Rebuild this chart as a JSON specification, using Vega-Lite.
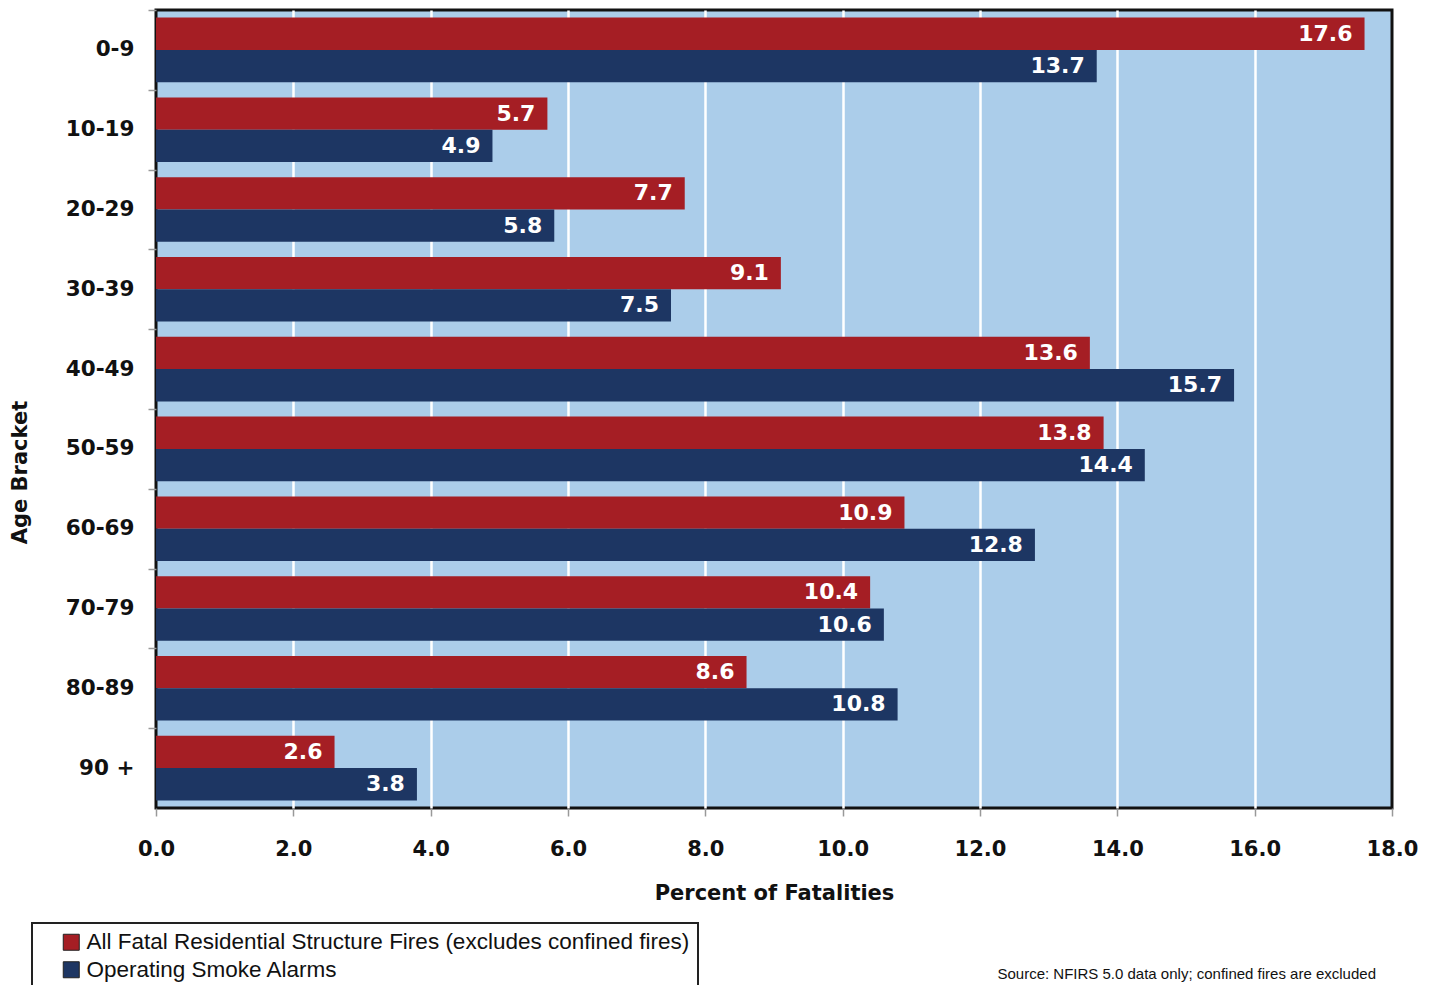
{
  "$schema": "https://vega.github.io/schema/vega-lite/v6.json",
  "width": 1236,
  "height": 798,
  "autosize": {"type": "none"},
  "padding": {"left": 156, "top": 10, "right": 42, "bottom": 177},
  "background": "white",
  "title": {
    "text": "Source: NFIRS 5.0 data only; confined fires are excluded",
    "orient": "bottom",
    "anchor": "end",
    "frame": "group",
    "offset": -24,
    "dx": -16,
    "font": "Liberation Sans",
    "fontSize": 15,
    "fontWeight": "normal",
    "color": "#111"
  },
  "data": {
    "values": [
      {"age": "0-9", "series": "All Fatal Residential Structure Fires (excludes confined fires)", "pct": 17.6},
      {"age": "0-9", "series": "Operating Smoke Alarms", "pct": 13.7},
      {"age": "10-19", "series": "All Fatal Residential Structure Fires (excludes confined fires)", "pct": 5.7},
      {"age": "10-19", "series": "Operating Smoke Alarms", "pct": 4.9},
      {"age": "20-29", "series": "All Fatal Residential Structure Fires (excludes confined fires)", "pct": 7.7},
      {"age": "20-29", "series": "Operating Smoke Alarms", "pct": 5.8},
      {"age": "30-39", "series": "All Fatal Residential Structure Fires (excludes confined fires)", "pct": 9.1},
      {"age": "30-39", "series": "Operating Smoke Alarms", "pct": 7.5},
      {"age": "40-49", "series": "All Fatal Residential Structure Fires (excludes confined fires)", "pct": 13.6},
      {"age": "40-49", "series": "Operating Smoke Alarms", "pct": 15.7},
      {"age": "50-59", "series": "All Fatal Residential Structure Fires (excludes confined fires)", "pct": 13.8},
      {"age": "50-59", "series": "Operating Smoke Alarms", "pct": 14.4},
      {"age": "60-69", "series": "All Fatal Residential Structure Fires (excludes confined fires)", "pct": 10.9},
      {"age": "60-69", "series": "Operating Smoke Alarms", "pct": 12.8},
      {"age": "70-79", "series": "All Fatal Residential Structure Fires (excludes confined fires)", "pct": 10.4},
      {"age": "70-79", "series": "Operating Smoke Alarms", "pct": 10.6},
      {"age": "80-89", "series": "All Fatal Residential Structure Fires (excludes confined fires)", "pct": 8.6},
      {"age": "80-89", "series": "Operating Smoke Alarms", "pct": 10.8},
      {"age": "90 +", "series": "All Fatal Residential Structure Fires (excludes confined fires)", "pct": 2.6},
      {"age": "90 +", "series": "Operating Smoke Alarms", "pct": 3.8}
    ]
  },
  "encoding": {
    "y": {
      "field": "age",
      "type": "nominal",
      "sort": null,
      "scale": {"paddingInner": 0.19, "paddingOuter": 0.095},
      "axis": {
        "title": "Age Bracket",
        "titleFont": "DejaVu Sans",
        "titleFontWeight": "bold",
        "titleFontSize": 21,
        "titleColor": "#111",
        "titleX": -126,
        "titleY": 462,
        "domain": false,
        "tickColor": "#999",
        "tickSize": 8,
        "tickWidth": 1.5,
        "tickOffset": -39.9,
        "labelOffset": 39.9,
        "labelFont": "DejaVu Sans",
        "labelFontWeight": "bold",
        "labelFontSize": 21.5,
        "labelColor": "#111",
        "labelPadding": 14
      }
    },
    "yOffset": {
      "field": "series",
      "type": "nominal",
      "sort": ["All Fatal Residential Structure Fires (excludes confined fires)", "Operating Smoke Alarms"],
      "scale": {"paddingInner": 0, "paddingOuter": 0}
    },
    "x": {
      "field": "pct",
      "type": "quantitative",
      "scale": {"domain": [0, 18], "nice": false},
      "axis": {
        "title": "Percent of Fatalities",
        "titleFont": "DejaVu Sans",
        "titleFontWeight": "bold",
        "titleFontSize": 21,
        "titleColor": "#111",
        "titleY": 74,
        "titleBaseline": "top",
        "values": [0, 2, 4, 6, 8, 10, 12, 14, 16, 18],
        "format": ".1f",
        "grid": true,
        "gridColor": {"condition": {"test": "datum.value == 0 || datum.value == 18", "value": "transparent"}, "value": "white"},
        "gridWidth": 2.5,
        "gridOpacity": 1,
        "domain": false,
        "tickColor": "#999",
        "tickSize": 8,
        "tickWidth": 1.5,
        "labelFont": "DejaVu Sans",
        "labelFontWeight": "bold",
        "labelFontSize": 21,
        "labelColor": "#111",
        "labelPadding": 22,
        "labelFlush": false,
        "labelOverlap": false
      }
    }
  },
  "layer": [
    {
      "mark": {"type": "bar"},
      "encoding": {
        "color": {
          "field": "series",
          "type": "nominal",
          "sort": ["All Fatal Residential Structure Fires (excludes confined fires)", "Operating Smoke Alarms"],
          "scale": {
            "domain": ["All Fatal Residential Structure Fires (excludes confined fires)", "Operating Smoke Alarms"],
            "range": ["#a51e24", "#1d3663"]
          },
          "legend": {
            "orient": "none",
            "legendX": -124,
            "legendY": 913,
            "title": null,
            "symbolType": "square",
            "symbolSize": 256,
            "symbolStrokeColor": "#222",
            "symbolStrokeWidth": 1,
            "symbolOpacity": 1,
            "symbolOffset": 20,
            "labelFont": "Liberation Sans",
            "labelFontSize": 22.5,
            "labelColor": "#111",
            "labelOffset": 4,
            "labelLimit": 0,
            "rowPadding": 4.5,
            "padding": 8,
            "strokeColor": "#222"
          }
        }
      }
    },
    {
      "mark": {
        "type": "text",
        "align": "right",
        "baseline": "middle",
        "dx": -12,
        "color": "white",
        "font": "DejaVu Sans",
        "fontWeight": "bold",
        "fontSize": 22
      },
      "encoding": {
        "text": {"field": "pct", "type": "quantitative", "format": ".1f"}
      }
    }
  ],
  "config": {
    "view": {"fill": "#abcdea", "stroke": "#111", "strokeWidth": 3},
    "legend": {"strokeWidth": 2}
  }
}
